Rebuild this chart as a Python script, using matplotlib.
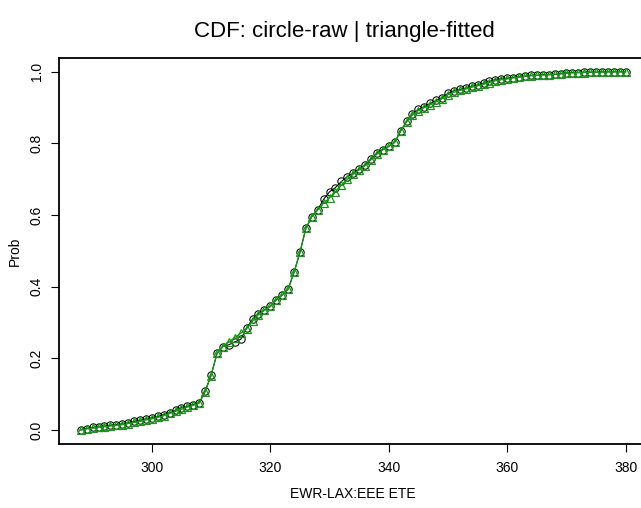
import matplotlib
matplotlib.use("Agg")
import matplotlib.pyplot as plt
import numpy as np

plt.rcParams['font.family'] = ['Liberation Sans', 'DejaVu Sans']

# EWR-LAX ETE values (minutes)
ete = list(range(288, 381))

raw_prob = [
    0.000, 0.004, 0.007, 0.008, 0.011, 0.013, 0.015, 0.017, 0.020, 0.024,  # 288-297
    0.027, 0.031, 0.034, 0.038, 0.043, 0.048, 0.055, 0.062, 0.066, 0.071,  # 298-307
    0.076, 0.109, 0.153, 0.214, 0.233, 0.238, 0.246, 0.253, 0.284, 0.310,  # 308-317
    0.325, 0.335, 0.345, 0.364, 0.377, 0.393, 0.440, 0.496, 0.563, 0.596,  # 318-327
    0.615, 0.644, 0.665, 0.677, 0.694, 0.707, 0.717, 0.728, 0.740, 0.756,  # 328-337
    0.773, 0.783, 0.792, 0.803, 0.835, 0.862, 0.882, 0.895, 0.903, 0.912,  # 338-347
    0.920, 0.928, 0.940, 0.947, 0.951, 0.954, 0.960, 0.963, 0.968, 0.974,  # 348-357
    0.978, 0.981, 0.982, 0.984, 0.986, 0.988, 0.990, 0.990, 0.992, 0.992,  # 358-367
    0.993, 0.995, 0.997, 0.998, 0.998, 0.999, 0.999, 0.999, 1.000, 1.000,  # 368-377
    1.000, 1.000, 1.000,                                                   # 378-380
]

fitted_prob = [
    0.000, 0.003, 0.005, 0.007, 0.009, 0.011, 0.013, 0.015, 0.018, 0.021,  # 288-297
    0.024, 0.028, 0.031, 0.035, 0.040, 0.046, 0.052, 0.058, 0.064, 0.069,  # 298-307
    0.075, 0.107, 0.152, 0.214, 0.233, 0.246, 0.258, 0.270, 0.283, 0.304,  # 308-317
    0.322, 0.334, 0.345, 0.362, 0.376, 0.393, 0.440, 0.496, 0.563, 0.596,  # 318-327
    0.614, 0.633, 0.648, 0.665, 0.683, 0.700, 0.714, 0.726, 0.738, 0.754,  # 328-337
    0.770, 0.782, 0.792, 0.803, 0.834, 0.860, 0.880, 0.892, 0.900, 0.908,  # 338-347
    0.916, 0.925, 0.936, 0.943, 0.948, 0.952, 0.957, 0.961, 0.965, 0.970,  # 348-357
    0.975, 0.978, 0.980, 0.983, 0.985, 0.987, 0.989, 0.990, 0.991, 0.992,  # 358-367
    0.993, 0.994, 0.996, 0.997, 0.998, 0.998, 0.999, 0.999, 0.999, 1.000,  # 368-377
    1.000, 1.000, 1.000,                                                   # 378-380
]

x_ticks = [300, 320, 340, 360, 380]
y_ticks = [0.0, 0.2, 0.4, 0.6, 0.8, 1.0]
y_tick_labels = ["0.0", "0.2", "0.4", "0.6", "0.8", "1.0"]

W, H = 641, 508
fig = plt.figure(figsize=(W / 100, H / 100), dpi=100)
ax = fig.add_axes([59 / W, (H - 444.3) / H, (647.5 - 59) / W, (444.3 - 57.5) / H])

green = '#109c10'
ax.plot(ete, raw_prob, linestyle='-', color='black', linewidth=0.8,
        marker='o', markersize=5.3, markerfacecolor='none',
        markeredgecolor='black', markeredgewidth=0.75)
ax.plot(ete, fitted_prob, linestyle='-', color=green, linewidth=0.9,
        marker='^', markersize=5.3, markerfacecolor='none',
        markeredgecolor=green, markeredgewidth=0.9)

xmin, xmax = min(ete), max(ete)
pad = 0.04 * (xmax - xmin)
ax.set_xlim(xmin - pad, xmax + pad)
ax.set_ylim(-0.04, 1.04)

ax.set_xticks(x_ticks)
ax.set_xticklabels([str(t) for t in x_ticks])
ax.set_yticks(y_ticks)
ax.set_yticklabels(y_tick_labels, rotation=90, va='center')

ax.tick_params(axis='both', direction='out', length=5.5, width=0.8,
               labelsize=10, color='black')
ax.tick_params(axis='x', pad=6.5)
ax.tick_params(axis='y', pad=5.5)

for sp in ax.spines.values():
    sp.set_linewidth(1.3)
    sp.set_color('black')

ax.set_xlabel('EWR-LAX:EEE ETE', fontsize=10, labelpad=9)
ax.set_ylabel('Prob', fontsize=10, labelpad=6)
fig.text(344 / W, 1 - 31 / H, 'CDF: circle-raw | triangle-fitted',
         ha='center', va='center', fontsize=16)

fig.savefig('out.png', dpi=100)
